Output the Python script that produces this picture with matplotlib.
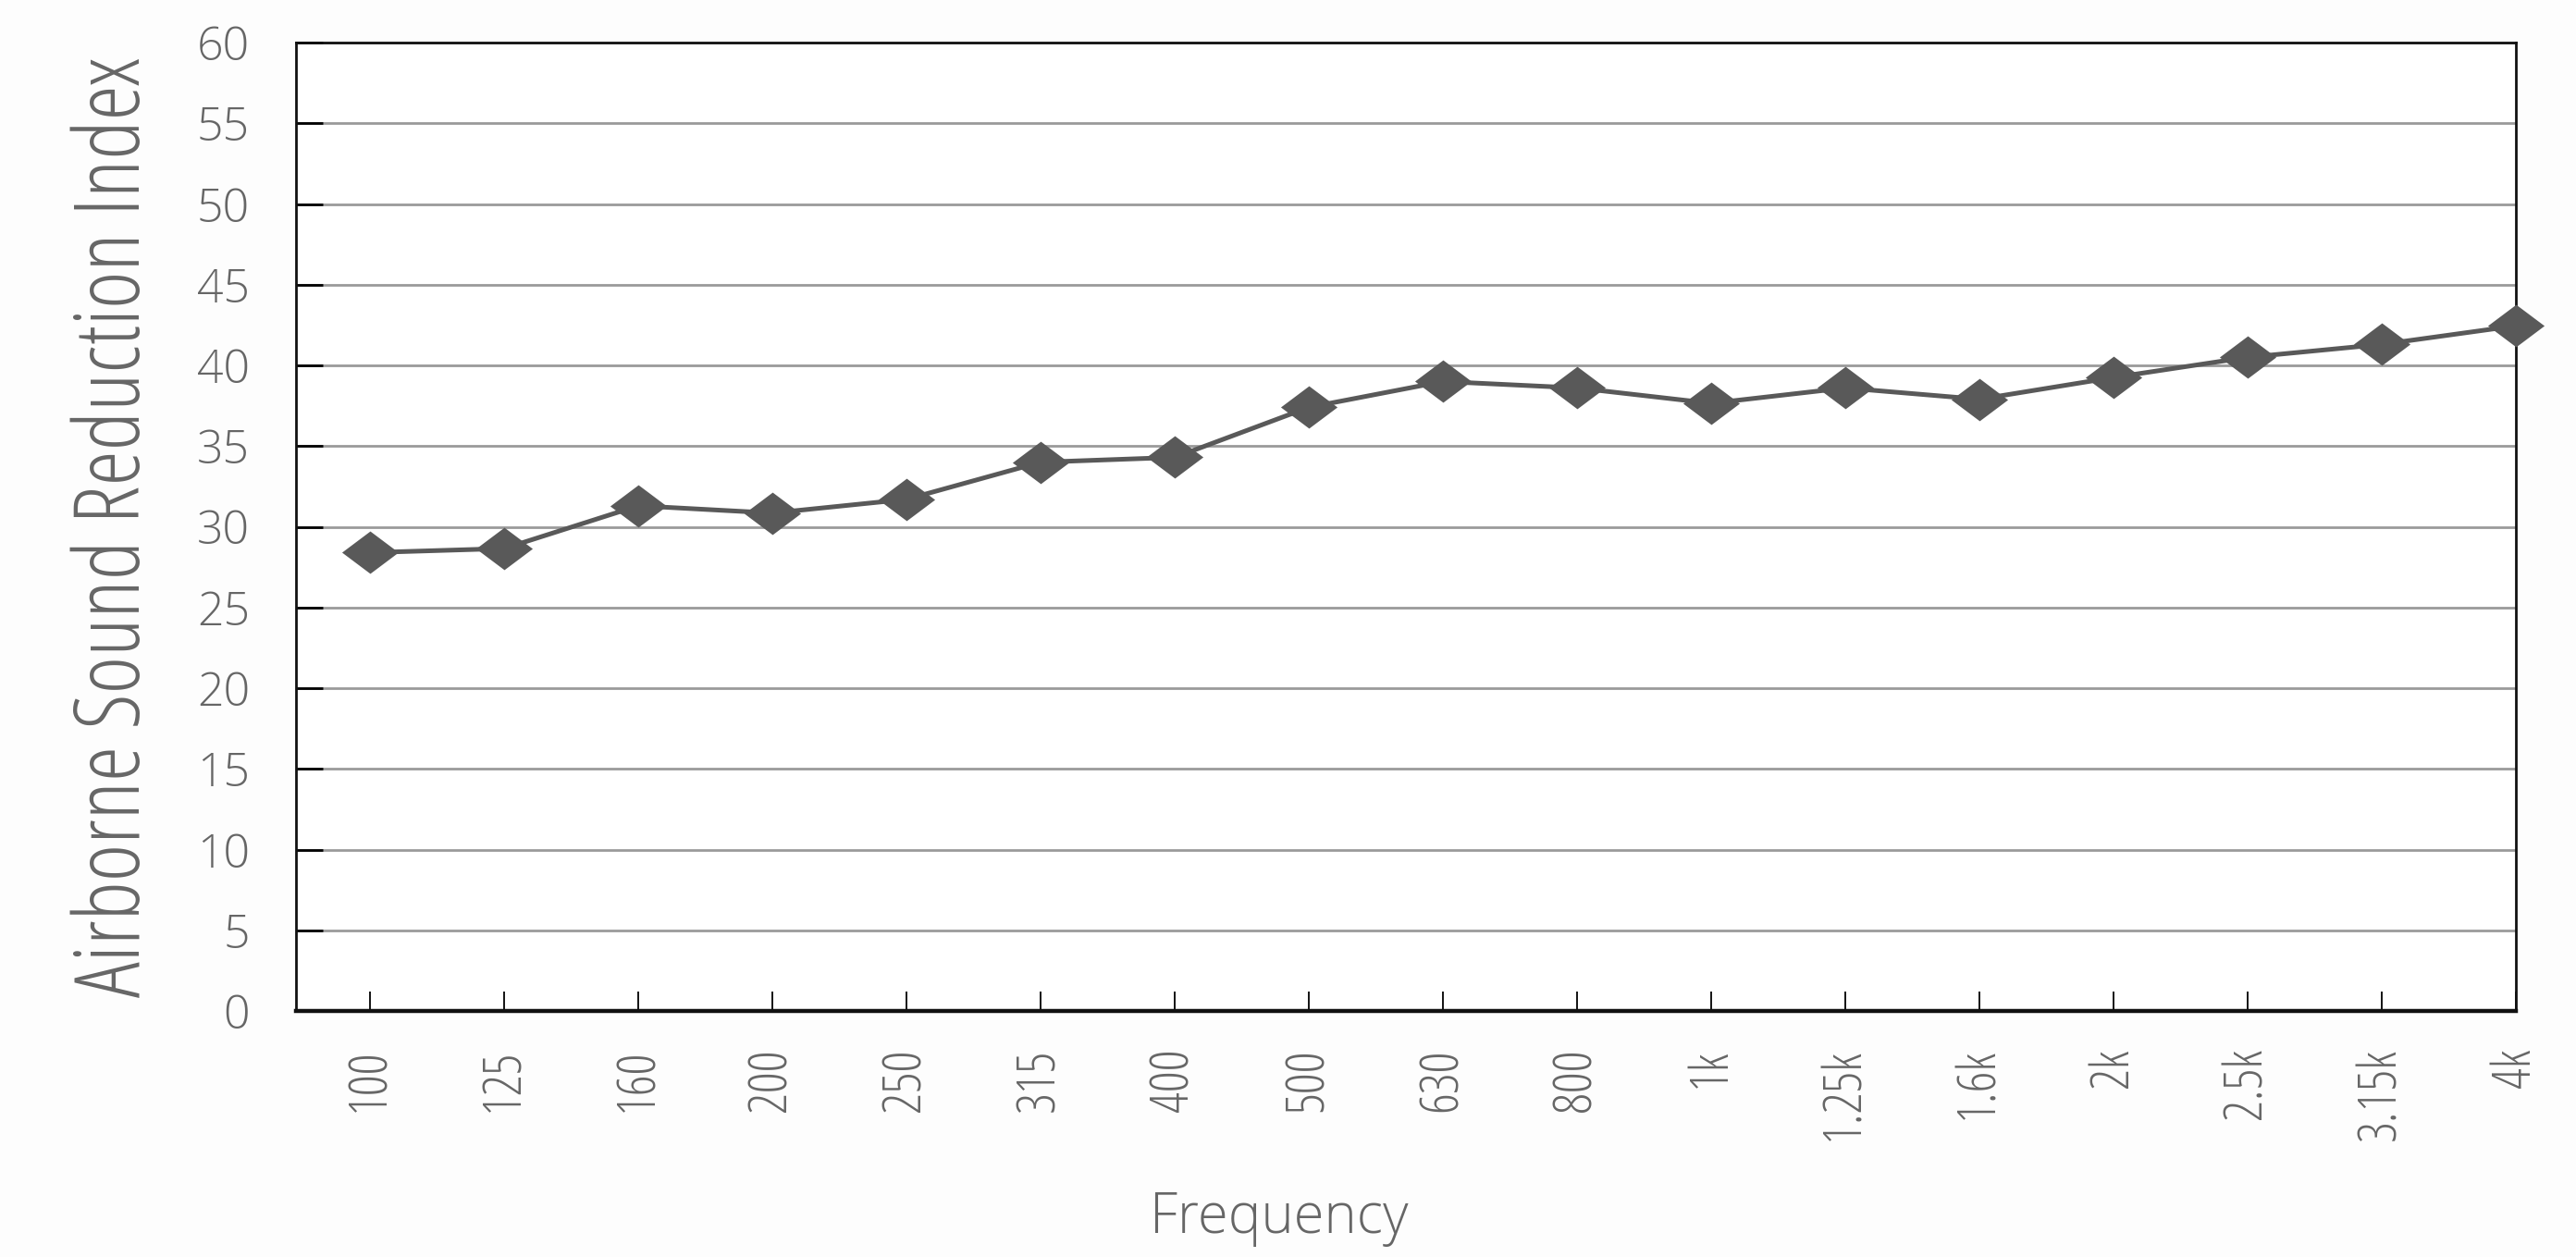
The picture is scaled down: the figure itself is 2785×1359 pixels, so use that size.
import matplotlib
matplotlib.use("Agg")
import matplotlib.pyplot as plt
from matplotlib.path import Path
from matplotlib.font_manager import FontProperties

# dados
freqs = ["100", "125", "160", "200", "250", "315", "400", "500", "630", "800",
         "1k", "1.25k", "1.6k", "2k", "2.5k", "3.15k", "4k"]
r_index = [28.4, 28.65, 31.3, 30.85, 31.7, 34.0, 34.3, 37.4, 39.0, 38.6,
           37.65, 38.6, 37.9, 39.25, 40.5, 41.3, 42.45]
y_ticks = list(range(0, 65, 5))

CINZA = "#595959"
TXT = "#666666"

fp_light = FontProperties(family="Open Sans", weight=300)
fp_cond = FontProperties(family="Open Sans", weight=300, stretch="condensed")

# losango achatado (mais largo que alto)
losango = Path([(-1, 0), (0, 0.75), (1, 0), (0, -0.75), (-1, 0)],
               [Path.MOVETO, Path.LINETO, Path.LINETO, Path.LINETO, Path.CLOSEPOLY])

fig = plt.figure(figsize=(27.85, 13.59), dpi=100, facecolor="#fdfdfd")
ax = fig.add_axes([320 / 2785, 1 - 1093 / 1359, 2400 / 2785, 1047 / 1359])
ax.set_facecolor("#ffffff")

x = list(range(len(freqs)))
ax.plot(x, r_index, color=CINZA, lw=3.6, marker=losango, markersize=44,
        markerfacecolor=CINZA, markeredgecolor=CINZA, markeredgewidth=0,
        clip_on=False, zorder=5)

ax.set_xlim(-0.552, len(freqs) - 1)
ax.set_ylim(0, 60)

ax.set_yticks(y_ticks)
ax.set_yticklabels([str(v) for v in y_ticks], fontproperties=fp_light,
                   fontsize=36, color=TXT)
ax.set_xticks(x)
ax.set_xticklabels(freqs, fontproperties=fp_cond, fontsize=41, color=TXT,
                   rotation=90)

ax.tick_params(axis="y", direction="in", length=21, width=2, color="black",
               pad=36)
ax.tick_params(axis="x", direction="in", length=15, width=1.3, color="black",
               pad=29)

ax.yaxis.grid(True, color="#9a9a9a", lw=2.0)
ax.set_axisbelow(True)

for s in ["left", "right", "top"]:
    ax.spines[s].set_linewidth(2.0)
    ax.spines[s].set_color("#111111")
ax.spines["bottom"].set_linewidth(3.2)
ax.spines["bottom"].set_color("#111111")

ax.set_ylabel("Airborne Sound Reduction Index", fontproperties=fp_cond,
              fontsize=70, color=TXT)
ax.yaxis.set_label_coords(-0.0605, 0.5)

ax.set_xlabel("Frequency", fontproperties=fp_light, fontsize=43, color=TXT,
              va="baseline")
ax.xaxis.set_label_coords(0.443, -0.229)

fig.savefig("out.png", dpi=100, facecolor=fig.get_facecolor())
